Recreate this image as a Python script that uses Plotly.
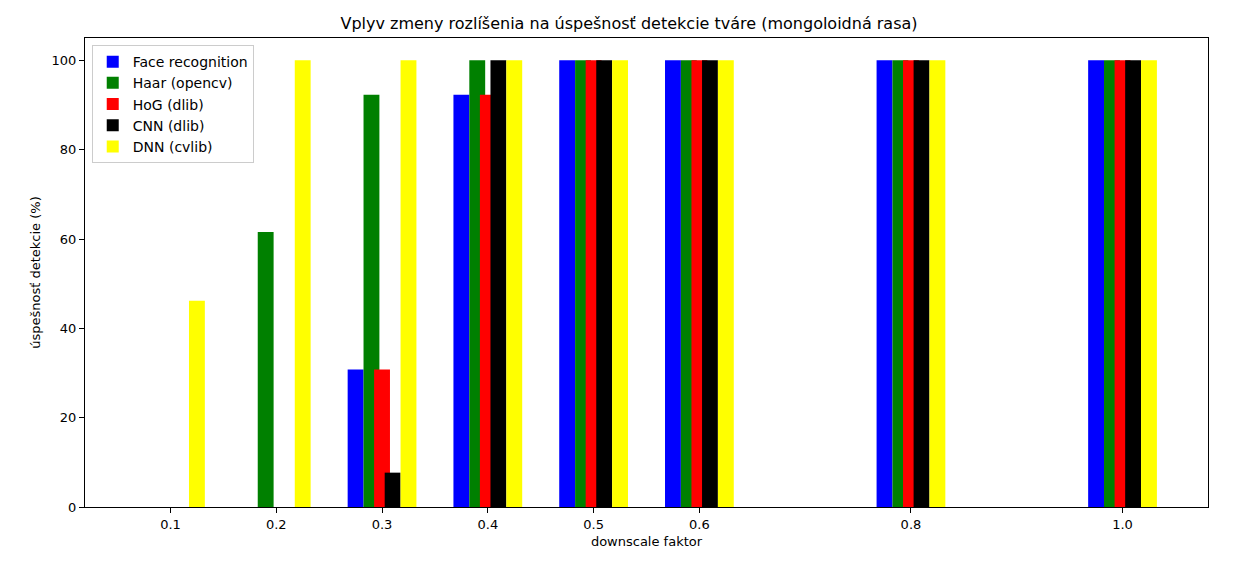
import plotly.graph_objects as go

# downscale factors and detection rate (%) per detector
factors = [0.1, 0.2, 0.3, 0.4, 0.5, 0.6, 0.8, 1.0]
tick_labels = ["0.1", "0.2", "0.3", "0.4", "0.5", "0.6", "0.8", "1.0"]

face_recognition = [0, 0, 30.77, 92.31, 100, 100, 100, 100]
haar_opencv = [0, 61.54, 92.31, 100, 100, 100, 100, 100]
hog_dlib = [0, 0, 30.77, 92.31, 100, 100, 100, 100]
cnn_dlib = [0, 0, 7.69, 100, 100, 100, 100, 100]
dnn_cvlib = [46.15, 100, 100, 100, 100, 100, 100, 100]

series = [
    ("Face recognition", face_recognition, "blue", -0.025),
    ("Haar (opencv)", haar_opencv, "green", -0.01),
    ("HoG (dlib)", hog_dlib, "red", 0.0),
    ("CNN (dlib)", cnn_dlib, "black", 0.01),
    ("DNN (cvlib)", dnn_cvlib, "yellow", 0.025),
]
bar_width = 0.015

fig = go.Figure()
for name, vals, color, shift in series:
    fig.add_trace(go.Bar(
        x=factors, y=vals, name=name,
        width=bar_width, offset=shift - bar_width / 2,
        marker=dict(color=color, line=dict(width=0)),
    ))

axis_style = dict(
    showline=True, linecolor="black", linewidth=1, mirror=True,
    ticks="outside", ticklen=5, tickcolor="black",
    showgrid=False, zeroline=False,
    tickfont=dict(size=13, color="black"),
)

# page has ~8px body margin, so margins are shifted to compensate
fig.update_layout(
    width=1242, height=565,
    barmode="overlay",
    plot_bgcolor="white", paper_bgcolor="white",
    font=dict(family="DejaVu Sans", color="black"),
    margin=dict(l=77, r=42, t=30, b=66),
    title=dict(text="Vplyv zmeny rozlíšenia na úspešnosť detekcie tváre (mongoloidná rasa)",
               x=0.5, xanchor="center", y=0.972, yanchor="middle",
               font=dict(size=16)),
    legend=dict(x=0.006, y=0.985, xanchor="left", yanchor="top",
                bordercolor="#cccccc", borderwidth=1, bgcolor="white",
                font=dict(size=14), tracegroupgap=0),
    showlegend=True,
)
fig.update_xaxes(axis_style, range=[0.0192, 1.0808], tickvals=factors,
                 ticktext=tick_labels,
                 title=dict(text="downscale faktor", font=dict(size=13), standoff=6))
fig.update_yaxes(axis_style, range=[0, 105], tickvals=[0, 20, 40, 60, 80, 100],
                 title=dict(text="úspešnosť detekcie (%)", font=dict(size=13), standoff=8))

fig.write_html("out.html")
